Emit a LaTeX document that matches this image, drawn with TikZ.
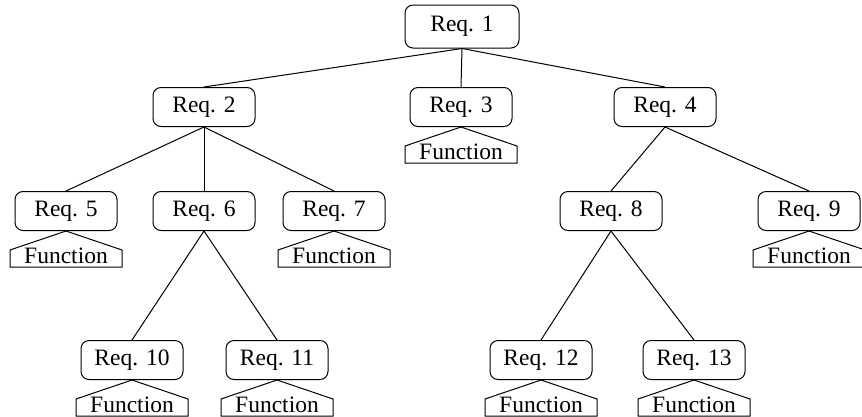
\documentclass[tikz,border=0pt]{standalone}
\usepackage{fontspec}
\setmainfont{Liberation Serif}
\begin{document}
\begin{tikzpicture}[x=1pt,y=-1pt,
  req/.style={draw,line width=1pt,rounded corners=8pt,minimum width=102pt,minimum height=39pt,inner sep=0pt,font=\fontsize{23.5}{28}\selectfont},
  ftext/.style={inner sep=0pt,font=\fontsize{23.5}{28}\selectfont},
  edge/.style={line width=1pt},
  fshape/.style={line width=1pt,line join=miter}]
\useasboundingbox (0,0) rectangle (862,416);
\node[req,minimum width=114pt,minimum height=43pt] (r1) at (462,26.5) {Req. 1};
\node[req] (r2) at (204,107) {Req. 2};
\node[req] (r3) at (461,107) {Req. 3};
\node[req] (r4) at (665,107) {Req. 4};
\node[req] (r5) at (66,211) {Req. 5};
\node[req] (r6) at (204,211) {Req. 6};
\node[req] (r7) at (334,211) {Req. 7};
\node[req] (r8) at (611,211) {Req. 8};
\node[req] (r9) at (809,211) {Req. 9};
\node[req] (r10) at (132,360) {Req. 10};
\node[req] (r11) at (277,360) {Req. 11};
\node[req] (r12) at (541,360) {Req. 12};
\node[req] (r13) at (694,360) {Req. 13};
\foreach \a/\b in {r1/r2,r1/r3,r1/r4,r2/r5,r2/r6,r2/r7,r6/r10,r6/r11,r4/r8,r4/r9,r8/r12,r8/r13}
  \draw[edge] (\a.south) -- (\b.north);
\foreach \r in {r3,r5,r7,r9,r10,r11,r12,r13}{
  \draw[fshape] (\r.south) -- ++(-56,19) -- ++(0,17) -- ++(112,0) -- ++(0,-17) -- cycle;
  \node[ftext] (f\r) at ([yshift=-25pt]\r.south) {Function};
}
\end{tikzpicture}
\end{document}
